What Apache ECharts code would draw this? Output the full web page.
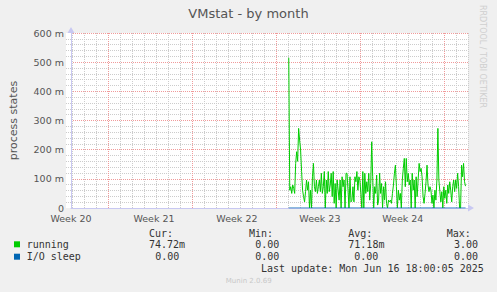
<!DOCTYPE html>
<html>
<head>
<meta charset="utf-8">
<script src="https://cdn.jsdelivr.net/npm/echarts@6/dist/echarts.min.js"></script>
<style>
html,body{margin:0;padding:0;background:#f0f0f0;}
#c{width:497px;height:292px;}
</style>
</head>
<body>
<div id="c"></div>
<script>
// ---------- data ----------
const title = 'VMstat - by month';
const yAxisName = 'process states';
const weekLabels = ['Week 20', 'Week 21', 'Week 22', 'Week 23', 'Week 24'];
const hoursPerWeek = 168;
const startHour = 441;   // first sample, hours from left edge of plot
const stepHours = 2;     // sample spacing
// running (milli units)
const running = [
  515, 61, 73, 50, 79, 67, 50, 153, 193, 160, 273, 233, 199, 125, 61, 39, 21, 56, 96, 61,
  90, 0, 61, 0, 107, 153, 73, 56, 96, 50, 73, 96, 56, 119, 50, 73, 125, 0, 96, 50,
  125, 56, 79, 119, 39, 125, 16, 84, 0, 96, 61, 27, 96, 0, 107, 73, 96, 0, 119,
  119, 61, 0, 107, 21, 27, 73, 21, 107, 90, 125, 61, 107, 96, 50, 0, 125, 0, 119, 50,
  90, 56, 119, 27, 84, 227, 107, 0, 73, 50, 113, 10, 27, 119, 50, 84, 0, 73, 27, 90,
  16, 0, 27, 21, 27, 16, 50, 79, 119, 147, 73, 0, 61, 27, 50, 0, 96, 136, 170, 73,
  170, 90, 119, 79,
  96, 0, 119, 61, 96, 0, 107, 39, 96, 153, 125, 136, 107, 39, 16, 50, 90, 147, 79, 56,
  73, 61, 16, 44, 0, 61, 27, 96, 273, 96, 56, 21, 56, 0, 73, 33, 61, 16, 79, 50,
  90, 61, 21, 73, 96, 56, 96, 67, 119, 73, 0, 0, 147, 107, 153, 90, 75
];
const ioSleep = [
  0,0,0,0,0,0,0,0,0,0,0,0,0,0,0,0,0,0,0,0,
  0,0,0,0,0,0,0,0,0,0,0,0,0,0,0,0,0,0,0,0,
  0,0,0,0,0,0,0,0,0,0,0,0,0,0,0,0,0,0,0,0,
  0,0,0,0,0,0,0,0,0,0,0,0,0,0,0,0,0,0,0,0,
  0,0,0,0,0,0,0,0,0,0,0,0,0,0,0,0,0,0,0,0,
  0,0,0,0,0,0,0,0,0,0,0,0,0,0,0,0,0,0,0,0,
  0,0,0,0,0,0,0,0,0,0,0,0,0,0,0,0,0,0,0,0,
  0,0,0,0,0,0,0,0,0,0,0,0,0,0,0,0,0,0,0,0,
  0,0,0,0,0,0,0,0,0,0,0,0,0,0,0,0,0,0,0,0
];
const seriesNames = ['running', 'I/O sleep'];
const seriesColors = ['#00cc00', '#0066b3'];
const statHeaders = ['Cur:', 'Min:', 'Avg:', 'Max:'];
const statsRunning = ['74.72m', '0.00', '71.18m', '3.00'];
const statsIo = ['0.00', '0.00', '0.00', '0.00'];
const lastUpdate = 'Last update: Mon Jun 16 18:00:05 2025';
const footer = 'Munin 2.0.69';
const watermark = 'RRDTOOL / TOBI OETIKER';

// ---------- chart ----------
const toPairs = arr => arr.map((v, i) => [startHour + i * stepHours, v]);
const SANS = 'DejaVu Sans';
const MONO = 'DejaVu Sans Mono';
const axisCol = '#c8c8f2';
const minorCol = '#cccccc';
const majorCol = '#f09a9a';

// grid helper categories (daily grid slots, 20 m levels, week boundaries)
const dayCats = [];
for (let d = 0; d <= 33; d++) dayCats.push('d' + d);
const levelCats = [];
for (let l = 0; l <= 30; l++) levelCats.push('l' + l);
const weekCats = [];
for (let w = 0; w <= 4; w++) weekCats.push('w' + w);

const chart = echarts.init(document.getElementById('c'), null, {renderer: 'svg', width: 497, height: 292});

const legendTxt = (t, x, y) => ({
  type: 'text', x: x, y: y,
  style: {text: t, font: '10px "' + MONO + '"', fill: '#333', verticalAlign: 'middle'}
});

const colX = [149, 249, 348.3, 446.7];
const runX = [149, 255.3, 348.3, 454];
const ioX = [155.3, 255.3, 354.3, 454];

const graphics = [
  {type: 'text', x: 248.5, y: 13, style: {text: title, font: '13px "' + SANS + '"', fill: '#555', align: 'center', verticalAlign: 'middle'}},
  {type: 'text', x: 482, y: 5, rotation: -Math.PI / 2, style: {text: watermark, font: '8px "' + SANS + '"', fill: '#cfcfcf', align: 'left', verticalAlign: 'middle'}},
  {type: 'rect', shape: {x: 14, y: 241.3, width: 6, height: 6}, style: {fill: seriesColors[0]}},
  {type: 'rect', shape: {x: 14, y: 253.7, width: 6, height: 6}, style: {fill: seriesColors[1]}},
  legendTxt(seriesNames[0], 26.7, 244.3),
  legendTxt(seriesNames[1], 26.7, 256.7),
  legendTxt(lastUpdate, 261, 268.7),
  {type: 'text', x: 248.7, y: 281, style: {text: footer, font: '7px "' + SANS + '"', fill: '#c8c8c8', align: 'center', verticalAlign: 'middle'}}
];
statHeaders.forEach((h, i) => graphics.push(legendTxt(h, colX[i], 233.3)));
statsRunning.forEach((s, i) => graphics.push(legendTxt(s, runX[i], 244.3)));
statsIo.forEach((s, i) => graphics.push(legendTxt(s, ioX[i], 256.7)));

const hidden = {show: false};
const option = {
  backgroundColor: '#f0f0f0',
  animation: false,
  grid: [
    {left: 66, top: 33, width: 402, height: 175, show: true, backgroundColor: '#ffffff', borderWidth: 0},
    {left: 72, top: 33, width: 396, height: 175},
    {left: 108, top: 33, width: 336, height: 175},
    {left: 66, top: 33, width: 402, height: 175}
  ],
  xAxis: [
    {type: 'value', gridIndex: 0, min: 0, max: 804, show: false, splitLine: hidden},
    {
      type: 'category', gridIndex: 1, data: dayCats, boundaryGap: false, z: 1,
      axisLine: hidden, axisTick: hidden, axisLabel: hidden,
      splitLine: {show: true, interval: (i) => i % 7 !== 3, lineStyle: {color: minorCol, type: [1, 1], width: 1}}
    },
    {
      type: 'category', gridIndex: 2, data: weekCats, boundaryGap: false, z: 3,
      axisLine: hidden, axisTick: hidden, axisLabel: hidden,
      splitLine: {show: true, interval: 0, lineStyle: {color: majorCol, type: [1, 1], width: 1}}
    },
    {
      type: 'value', gridIndex: 3, min: 0, max: 804, interval: hoursPerWeek, z: 5,
      axisLine: {show: true, lineStyle: {color: axisCol, width: 1}, symbol: ['none', 'triangle'], symbolSize: [7, 6], symbolOffset: [0, 3]},
      axisTick: hidden,
      splitLine: hidden,
      axisLabel: {
        show: true, margin: 5, color: '#555', fontFamily: SANS, fontSize: 9.5,
        showMaxLabel: false,
        formatter: v => weekLabels[Math.round(v / hoursPerWeek)] || ''
      }
    }
  ],
  yAxis: [
    {
      type: 'category', gridIndex: 0, data: levelCats, boundaryGap: false, z: 1,
      axisLine: hidden, axisTick: hidden, axisLabel: hidden,
      splitLine: {show: true, interval: (i) => i % 5 !== 0, lineStyle: {color: minorCol, type: [1, 1], width: 1}}
    },
    {type: 'value', gridIndex: 1, min: 0, max: 600, show: false, splitLine: hidden},
    {type: 'value', gridIndex: 2, min: 0, max: 600, show: false, splitLine: hidden},
    {
      type: 'value', gridIndex: 3, min: 0, max: 600, interval: 100, z: 4,
      name: yAxisName, nameLocation: 'middle', nameRotate: 90, nameGap: 52,
      nameTextStyle: {color: '#555', fontFamily: SANS, fontSize: 11},
      axisLine: {show: true, lineStyle: {color: axisCol, width: 1}, symbol: ['none', 'triangle'], symbolSize: [7, 6], symbolOffset: [0, 3]},
      axisTick: hidden,
      axisLabel: {show: true, margin: 7, color: '#555', fontFamily: SANS, fontSize: 9.5,
        formatter: v => v === 0 ? '0' : v + ' m'},
      splitLine: {show: true, lineStyle: {color: majorCol, type: [1, 1], width: 1}}
    }
  ],
  series: [
    {
      name: seriesNames[0], type: 'line', xAxisIndex: 3, yAxisIndex: 3, z: 10,
      data: toPairs(running), showSymbol: false, symbol: 'none',
      lineStyle: {color: seriesColors[0], width: 1}, itemStyle: {color: seriesColors[0]}
    },
    {
      name: seriesNames[1], type: 'line', xAxisIndex: 3, yAxisIndex: 3, z: 11,
      data: toPairs(ioSleep), showSymbol: false, symbol: 'none',
      lineStyle: {color: seriesColors[1], width: 1}, itemStyle: {color: seriesColors[1]}
    }
  ],
  graphic: graphics
};
chart.setOption(option);
</script>
</body>
</html>
